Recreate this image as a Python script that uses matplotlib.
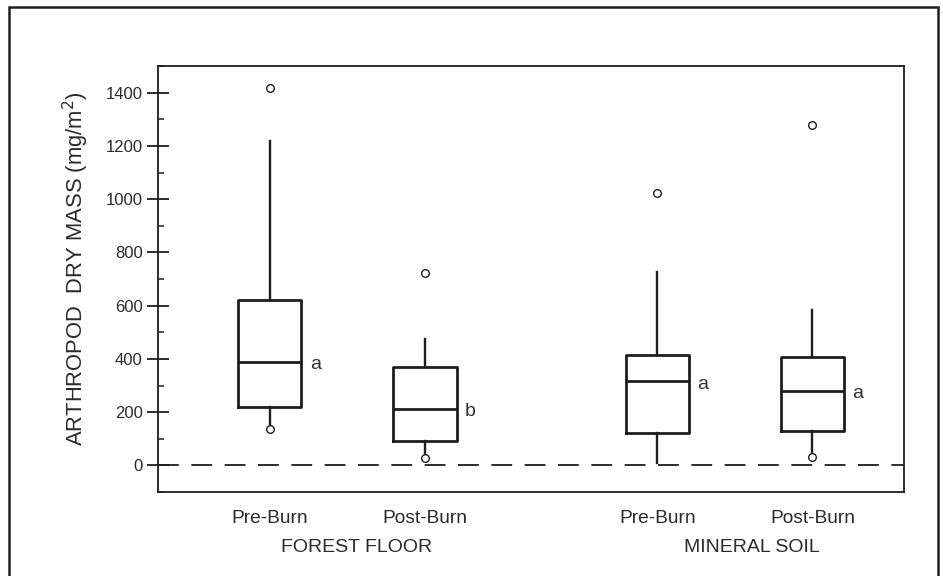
import matplotlib
matplotlib.use('Agg')
import matplotlib.pyplot as plt
from matplotlib.patches import Rectangle
from matplotlib.ticker import MultipleLocator

plt.rcParams['font.family'] = ['Liberation Sans', 'DejaVu Sans']
plt.rcParams['lines.scale_dashes'] = False

# Box summaries (mg/m2)
labels = ['Pre-Burn', 'Post-Burn', 'Pre-Burn', 'Post-Burn']
positions = [1.0, 2.0, 3.5, 4.5]
q1 = [221, 90, 120, 131]
med = [389, 213, 316, 279]
q3 = [621, 371, 415, 408]
whislo = [151, 39, 8, 43]
whishi = [1220, 475, 726, 584]
fliers = [[1419, 138], [722, 26], [1022], [1280, 30]]
letters = ['a', 'b', 'a', 'a']

groups = ['FOREST FLOOR', 'MINERAL SOIL']
group_x = [1.56, 4.11]

ink = '#1e1e1e'

stats = []
for i in range(len(labels)):
    stats.append(dict(label=labels[i], q1=q1[i], med=med[i], q3=q3[i],
                      whislo=whislo[i], whishi=whishi[i], fliers=fliers[i]))

fig = plt.figure(figsize=(9.43, 5.76), dpi=100)
ax = fig.add_axes([0.1676, 0.1458, 0.7910, 0.7396])

# zero reference line
ax.axhline(0, color=ink, lw=1.3, linestyle=(0, (15, 9)), zorder=1)

ax.bxp(stats, positions=positions, widths=0.41, showcaps=False,
       boxprops=dict(color=ink, lw=2.0),
       medianprops=dict(color=ink, lw=2.0),
       whiskerprops=dict(color=ink, lw=1.7),
       flierprops=dict(marker='o', markersize=5.5, markerfacecolor='white',
                       markeredgecolor=ink, markeredgewidth=1.0))

for i in range(len(labels)):
    ax.annotate(letters[i], xy=(positions[i] + 0.205, med[i]), xytext=(6, -2),
                textcoords='offset points', ha='left', va='center',
                fontsize=14, color='#333333')

ax.set_xlim(0.28, 5.09)
ax.set_ylim(-100, 1500)

ax.yaxis.set_major_locator(MultipleLocator(200))
ax.yaxis.set_minor_locator(MultipleLocator(100))
ax.tick_params(axis='y', which='major', direction='inout', length=16,
               width=1.3, color=ink, labelsize=12, pad=3, labelcolor='#2a2a2a')
ax.tick_params(axis='y', which='minor', direction='in', length=4.5,
               width=1.1, color=ink)
ax.tick_params(axis='x', length=0, labelsize=13.8, pad=13, labelcolor='#2a2a2a')

for s in ax.spines.values():
    s.set_linewidth(1.3)
    s.set_color(ink)

for g, gx in zip(groups, group_x):
    ax.text(gx, -0.13, g, transform=ax.get_xaxis_transform(), ha='center',
            va='center', fontsize=14, color='#2a2a2a')

fig.text(76 / 943, 1 - 269 / 576, 'ARTHROPOD  DRY MASS (mg/m$^2$)', rotation=90,
         ha='center', va='center', fontsize=15.8, color='#2a2a2a')

# outer frame of the figure panel
fig.add_artist(Rectangle((9 / 943, -0.05), 929 / 943, 1.05 - 7 / 576,
                         transform=fig.transFigure, fill=False,
                         edgecolor=ink, lw=1.8))

plt.savefig('out.png', dpi=100)
